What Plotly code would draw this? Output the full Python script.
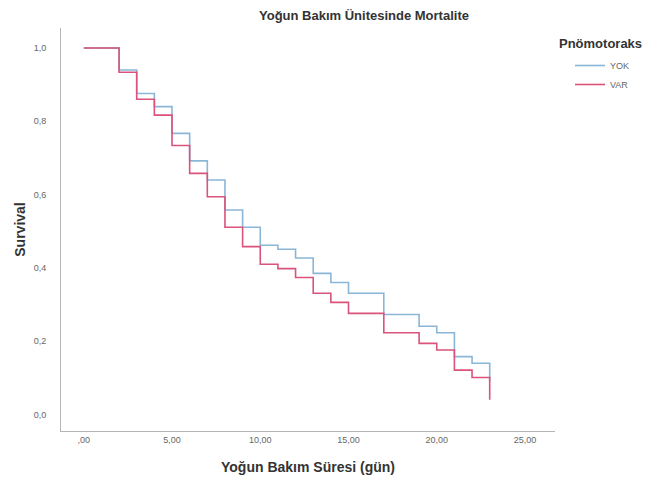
import plotly.graph_objects as go

# Data (Kaplan-Meier step curves)
days = [0, 2, 3, 4, 5, 6, 7, 8, 9, 10, 11, 12, 13, 14, 15, 17, 19, 20, 21, 22, 23]
surv_yok = [1.0, 0.94, 0.876, 0.84, 0.767, 0.692, 0.640, 0.558, 0.511, 0.462, 0.451,
            0.427, 0.385, 0.360, 0.331, 0.273, 0.241, 0.223, 0.158, 0.140, 0.090]
surv_var = [1.0, 0.934, 0.860, 0.817, 0.734, 0.658, 0.594, 0.511, 0.458, 0.410, 0.398,
            0.374, 0.331, 0.306, 0.276, 0.223, 0.194, 0.176, 0.121, 0.101, 0.040]

group_names = ["YOK", "VAR"]
group_colors = ["#8ab6d8", "#d9537a"]

x_tickvals = [0, 5, 10, 15, 20, 25]
x_ticktext = [",00", "5,00", "10,00", "15,00", "20,00", "25,00"]
y_tickvals = [0.0, 0.2, 0.4, 0.6, 0.8, 1.0]
y_ticktext = ["0,0", "0,2", "0,4", "0,6", "0,8", "1,0"]

FONT = "Liberation Sans, Arial, sans-serif"

# page body has an 8px offset; figure sized to fit the visible window
W, H = 653, 473
OFF = 8
L, R, T, B = 61 - OFF, 106, 28 - OFF, 50
PW, PH = W - L - R, H - T - B


def px_x(p):
    return (p - OFF - L) / PW


def px_y(p):
    return 1 - (p - OFF - T) / PH


fig = go.Figure()
for name, ys, col in zip(group_names, [surv_yok, surv_var], group_colors):
    fig.add_trace(go.Scatter(
        x=days, y=ys, mode="lines", name=name,
        line=dict(shape="hv", color=col, width=1.6),
    ))

fig.update_layout(
    width=W, height=H,
    paper_bgcolor="white", plot_bgcolor="white",
    margin=dict(l=L, r=R, t=T, b=B),
    font=dict(family=FONT, color="#444"),
    title=dict(text="<b>Yoğun Bakım Ünitesinde Mortalite</b>",
               x=(364 - OFF) / W, xanchor="center", y=1 - (15 - OFF) / H, yanchor="middle",
               font=dict(size=13, color="#333")),
    showlegend=True,
    legend=dict(x=px_x(570), xanchor="left", y=px_y(51), yanchor="top",
                bgcolor="rgba(0,0,0,0)", font=dict(size=9, color="#666"),
                itemwidth=30, tracegroupgap=0),
    annotations=[dict(text="<b>Pnömotoraks</b>", xref="paper", yref="paper",
                      x=px_x(557), xanchor="left", y=px_y(43), yanchor="middle",
                      showarrow=False, font=dict(size=13, color="#333"))],
)

fig.update_xaxes(
    range=[-1.29, 26.7], tickvals=x_tickvals, ticktext=x_ticktext,
    showgrid=False, zeroline=False, showline=True, linecolor="#b5b5b5", linewidth=1,
    ticks="", tickfont=dict(size=9, color="#666"), automargin=False,
    title=dict(text="<b>Yoğun Bakım Süresi (gün)</b>", font=dict(size=14, color="#333"),
               standoff=18),
)
fig.update_yaxes(
    range=[-0.045, 1.0546], tickvals=y_tickvals, ticktext=y_ticktext,
    showgrid=False, zeroline=False, showline=True, linecolor="#b5b5b5", linewidth=1,
    ticks="", tickfont=dict(size=9, color="#666"), automargin=True,
    ticklabelstandoff=12,
    title=dict(text="<b>Survival</b>", font=dict(size=14, color="#333"), standoff=4),
)

fig.write_html("out.html")
